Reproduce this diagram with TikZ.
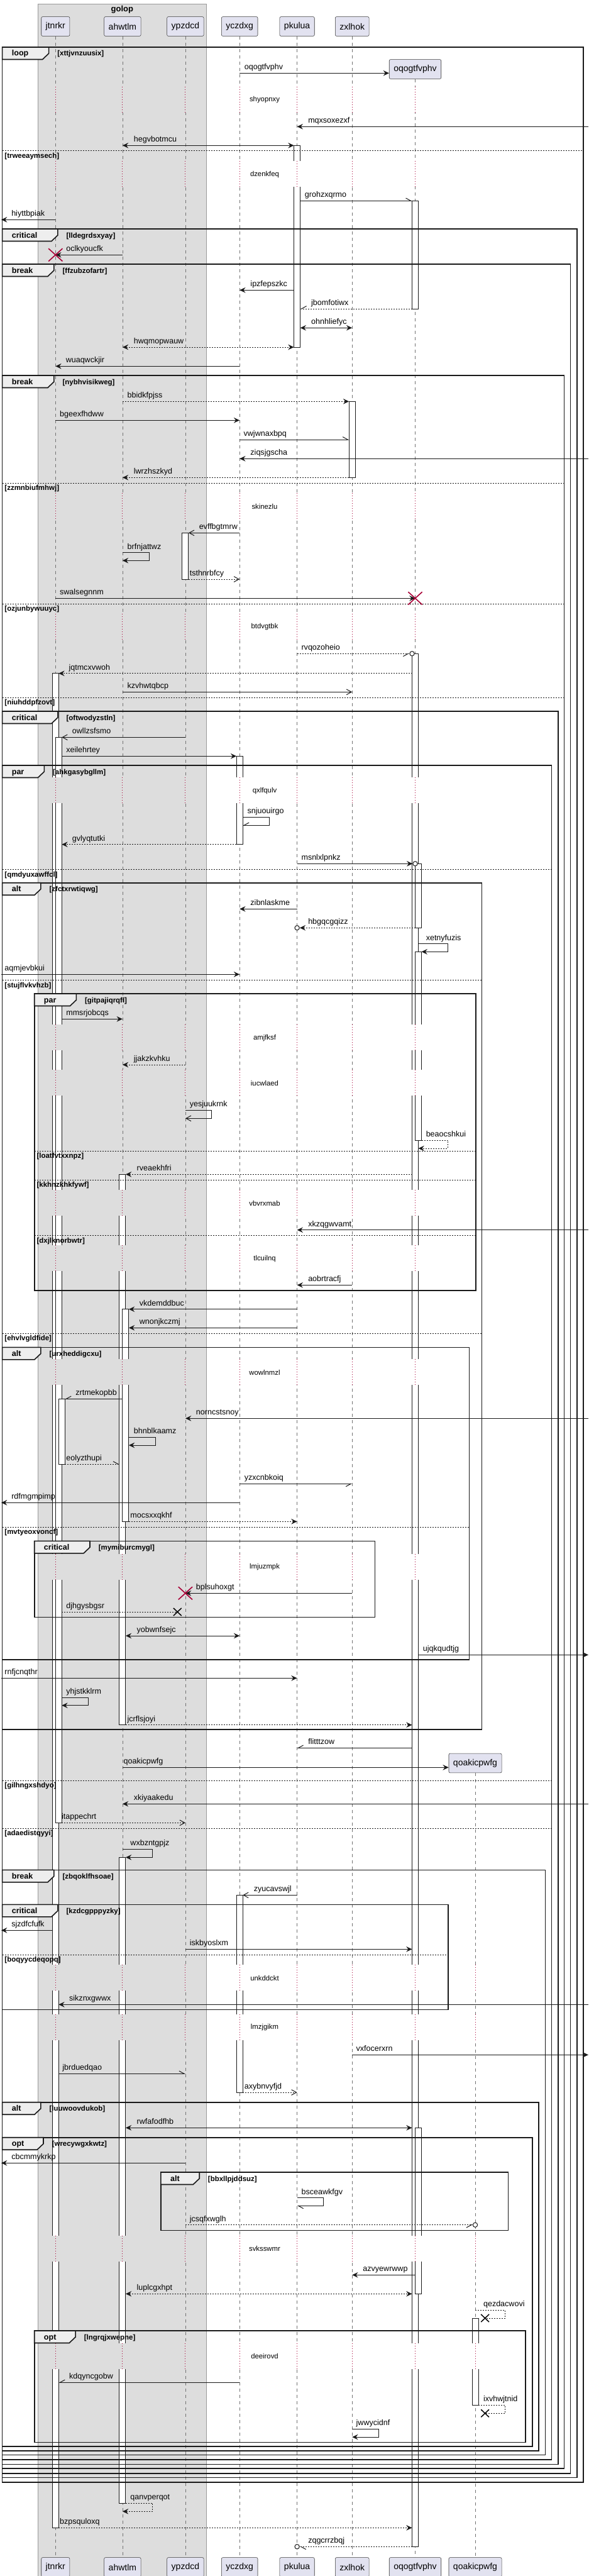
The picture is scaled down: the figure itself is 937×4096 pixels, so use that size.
\documentclass[tikz,border=0pt]{standalone}
\usepackage{fontspec}
\setmainfont{Liberation Sans}
\usetikzlibrary{arrows.meta,calc,shapes.misc}
\definecolor{partfill}{HTML}{E2E2F0}
\definecolor{golopfill}{HTML}{DDDDDD}
\definecolor{tabfill}{HTML}{EEEEEE}
\definecolor{killred}{HTML}{A80036}
\tikzset{
  part/.style={draw=black!80, fill=partfill, rounded corners=1.5pt, minimum height=23pt,
               inner xsep=5.25pt, font=\fontsize{10.5}{12}\selectfont},
  life/.style={draw=black!55, line width=0.6pt, dash pattern=on 3.75pt off 3.75pt},   % lifeline
  act/.style={draw=black!90, fill=white, line width=0.75pt},                          % activation
  delayline/.style={draw=killred, line width=0.75pt, dash pattern=on 0.75pt off 2.25pt},
  delaytxt/.style={font=\fontsize{8.5}{10}\selectfont, inner sep=0pt},
  msg/.style={draw=black!90, line width=0.75pt},
  sync/.style={msg, -{Stealth[length=7pt,width=6.5pt,inset=2.5pt]}},
  sync2/.style={msg, {Stealth[length=7pt,width=6.5pt,inset=2.5pt]}-{Stealth[length=7pt,width=6.5pt,inset=2.5pt]}},
  async/.style={msg, -{Straight Barb[length=6pt,width=6.5pt]}},
  halfl/.style={msg, -{Straight Barb[left,length=6pt,width=6.5pt]}},
  halfr/.style={msg, -{Straight Barb[right,length=6pt,width=6.5pt]}},
  reply/.style={msg, dash pattern=on 1.5pt off 1.5pt},
  lbl/.style={anchor=base west, inner sep=0pt, font=\fontsize{9.4}{11}\selectfont},
  fragline/.style={draw=black!90, line width=1.2pt},
  fragtab/.style={draw=black!90, fill=tabfill, line width=1.2pt},
  elseline/.style={draw=black!90, line width=0.75pt, dash pattern=on 1.5pt off 1.5pt},
  kw/.style={anchor=base west, inner sep=0pt, font=\fontsize{9.4}{11}\selectfont\bfseries},
  guard/.style={anchor=base west, inner sep=0pt, font=\fontsize{8.6}{10}\selectfont\bfseries},
  kill/.style={cross out, draw=killred, line width=1.2pt, minimum width=15.5pt,
               minimum height=14pt, inner sep=0pt},
  lost/.style={cross out, draw=black, line width=1.1pt, minimum width=8.5pt,
               minimum height=8pt, inner sep=0pt},
  endo/.style={circle, draw=black!90, fill=white, line width=0.75pt, minimum size=5.5pt, inner sep=0pt},
}
% message: [style]{from}{to}{y}{label x}{label}
\newcommand{\seqmsg}[6][sync]{%
  \draw[#1] (#2|-0,#4) -- (#3|-0,#4);
  \node[lbl] (#6) at (#5,#4-5.5) {#6};}
% message to self: [style]{from}{to}{y1}{y2}{loop width}{label x}{label}
\newcommand{\seqself}[8][sync]{%
  \draw[#1] (#2|-0,#4) -- ++(#6,0) |- (#3|-0,#5);
  \node[lbl] (#8) at (#7,#4-5.5) {#8};}
% fragment: {left}{top}{right}{bottom}{keyword}{tab width}{guard}
\newcommand{\seqframe}[7]{%
  \draw[fragline] (#1,#2) rectangle (#3,#4);
  \draw[fragtab] (#1,#2) -- ++(#6,0) -- ++(0,10) -- ++(-10,9.5) -- (#1,#2+19.5) -- cycle;
  \node[kw] (#7-kw) at (#1+15,#2+14) {#5};
  \node[guard] (#7) at (#1+#6+13.5,#2+14) {[#7]};}
% else line: {left}{right}{y}{guard}
\newcommand{\seqelse}[4]{%
  \draw[elseline] (#1,#3) -- (#2,#3);
  \node[guard] (#4) at (#1+3.6,#3+11.3) {[#4]};}

\begin{document}
\begin{tikzpicture}[x=0.75pt, y=-0.75pt]
  \useasboundingbox (0,0) rectangle (937,4096);
  \fill[white] (0,0) rectangle (937,4096);
  \draw[draw=black!40, fill=golopfill, line width=0.5pt] (60.7,6) rectangle (328,4100);
  \node[font=\fontsize{9.75}{11}\selectfont\bfseries] (golop) at (194.4,15.5) {golop};

  \node[part] (jt) at (88.3,42)    {jtnrkr};
  \node[part] (ah) at (194.9,42)   {ahwtlm};
  \node[part] (yp) at (294.9,42)   {ypzdcd};
  \node[part] (yc) at (381.2,42)   {yczdxg};
  \node[part] (pk) at (472.6,42)   {pkulua};
  \node[part] (zx) at (560.2,42)   {zxlhok};
  \node[part] (oq) at (660.5,110)  {oqogtfvphv};
  \node[part] (qo) at (756,2803.5) {qoakicpwfg};
  \foreach \p/\x/\txt in {jt/88.3/jtnrkr, ah/194.9/ahwtlm, yp/294.9/ypzdcd, yc/381.2/yczdxg,
                          pk/472.6/pkulua, zx/560.2/zxlhok, oq/660.5/oqogtfvphv, qo/756/qoakicpwfg}
    \node[part] (\p b) at (\x,4082) {\txt};

  \foreach \p in {jt,ah,yp,yc,pk,zx,oq,qo} {
    \coordinate (\p L) at ($(\p)+(-5,0)$);
    \coordinate (\p R) at ($(\p)+(5,0)$);
    \coordinate (\p R2) at ($(\p)+(10,0)$);
  }
  \coordinate (jtR3) at ($(jt)+(15,0)$);
  \coordinate (lft) at (2,0);
  \coordinate (rgt) at (936,0);

  \foreach \p in {jt,ah,yp,yc,pk,zx,oq,qo} \draw[life] (\p.south) -- (\p b.north);

  \foreach \a/\ya/\b/\yb in {pkL/231.3/pkR/552, oqL/319.3/oqR/491, zxL/638.3/zxR/759.3,
      ypL/847.3/ypR/921, oqL/1039.3/oqR/4049.3, jtL/1070.7/jtR/4019.3, jt/1172.3/jtR2/2898.3,
      ycL/1202.3/ycR/1342.7, oq/1373.3/oqR2/1475.3, oq/1513.3/oqR2/1813.3, ahL/1867.3/ahR/2742.7,
      ah/2081.7/ahR2/2419.3, jtR/2224.3/jtR3/2328, ahL/2953.3/ahR/3980, ycL/3013.3/ycR/3327,
      oq/3383.3/oqR2/3647.3, qoL/3686/qoR/3824.3}
    \draw[act] (\a|-0,\ya) rectangle (\b|-0,\yb);

  % delays
  \foreach \y/\txt in {158.7/shyopnxy, 277.3/dzenkfeq, 805.3/skinezlu, 997/btdvgtbk, 1257.3/qxlfqulv,
      1650.3/amjfksf, 1722.3/iucwlaed, 1913.3/vbvrxmab, 2001.3/tlcuilnq, 2182.3/wowlnmzl,
      2491.7/lmjuzmpk, 3145/unkddckt, 3224/lmzjgikm, 3575.7/svksswmr, 3746.7/deeirovd} {
    \foreach \p/\bg in {jt/golopfill, ah/golopfill, yp/golopfill, yc/white, pk/white, zx/white, oq/white} {
      \fill[\bg] ($(\p|-0,\y)+(-11,-21)$) rectangle ($(\p|-0,\y)+(11,20)$);
      \draw[delayline] ($(\p|-0,\y)+(0,-21)$) -- ($(\p|-0,\y)+(0,20)$);
    }
    \node[delaytxt] (\txt) at (421,\y) {\txt};
  }
  \foreach \y in {3145,3224,3575.7,3746.7} {
    \fill[white] ($(qo|-0,\y)+(-11,-21)$) rectangle ($(qo|-0,\y)+(11,20)$);
    \draw[delayline] ($(qo|-0,\y)+(0,-21)$) -- ($(qo|-0,\y)+(0,20)$);
  }

  % fragments
  \seqframe{3.6}{75}{928}{3946.7}{loop}{74}{xttjvnzuusix}
  \seqelse{3.6}{928}{240}{trweeaymsech}
  \seqframe{3.6}{364}{917.7}{3939.3}{critical}{88.3}{lldegrdsxyay}
  \seqframe{3.6}{420}{907.5}{3932.7}{break}{82.3}{ffzubzofartr}
  \seqframe{3.6}{597}{897.3}{3925}{break}{82.3}{nybhvisikweg}
  \seqelse{3.6}{897.3}{768.3}{zzmnbiufmhwj}
  \seqelse{3.6}{897.3}{960.3}{ozjunbywuuyc}
  \seqelse{3.6}{897.3}{1109.3}{niuhddpfzovt}
  \seqframe{3.6}{1131}{887.7}{3918.3}{critical}{88.3}{oftwodyzstln}
  \seqframe{3.6}{1217}{877.5}{3910.7}{par}{66.7}{ahkgasybgllm}
  \seqelse{3.6}{877.5}{1382.7}{qmdyuxawffcl}
  \seqelse{3.6}{877.5}{2831.3}{gilhngxshdyo}
  \seqelse{3.6}{877.5}{2907.3}{adaedistqyyi}
  \seqframe{3.6}{1403.7}{766.4}{2750}{alt}{61.3}{zfctxrwtiqwg}
  \seqelse{3.6}{766.4}{1558.7}{stujflvkvhzb}
  \seqelse{3.6}{766.4}{2120.3}{ehvlvgldfide}
  \seqframe{54.7}{1580}{756.8}{2051.7}{par}{66.7}{gitpajiqrqfl}
  \seqelse{54.7}{756.8}{1830.3}{loatfvtxxnpz}
  \seqelse{54.7}{756.8}{1876.3}{kkhnzkhkfywf}
  \seqelse{54.7}{756.8}{1964.7}{dxjlknorbwtr}
  \seqframe{3.6}{2142.3}{746.6}{2639}{alt}{61.3}{urxheddigcxu}
  \seqelse{3.6}{746.6}{2428.3}{mvtyeoxvoncf}
  \seqframe{54.7}{2450.3}{596.4}{2571.3}{critical}{88.3}{mymiburcmygl}
  \seqframe{3.6}{2973.3}{867.3}{3903.3}{break}{82.3}{zbqoklfhsoae}
  \seqframe{3.6}{3028.3}{713}{3195.3}{critical}{88.3}{kzdcgpppyzky}
  \seqelse{3.6}{713}{3108.3}{boqyycdeqopq}
  \seqframe{3.6}{3342.7}{857}{3896.7}{alt}{61.3}{luuwoovdukob}
  \seqframe{3.6}{3398.7}{846.8}{3890}{opt}{65.4}{wrecywgxkwtz}
  \seqframe{255.9}{3454}{808.4}{3546.3}{alt}{61.3}{bbxllpjddsuz}
  \seqframe{54.7}{3706}{836}{3883.3}{opt}{65.4}{lngrqjxwepne}

  % messages
  \seqmsg{yc}{oq.west}{116.3}{388.6}{oqogtfvphv}
  \seqmsg{rgt}{pk}{201.3}{490}{mqxsoxezxf}
  \seqmsg[sync2]{ah}{pkL}{231.3}{212.6}{hegvbotmcu}
  \seqmsg[halfl]{pkR}{oqL}{319.3}{484.7}{grohzxqrmo}
  \seqmsg{jt}{lft}{349.3}{18}{hiyttbpiak}
  \seqmsg{ah}{jt}{405.3}{105.1}{oclkyoucfk}
  \seqmsg{pkL}{yc}{461.3}{398.2}{ipzfepszkc}
  \seqmsg[reply,halfr]{oqL}{pkR}{491}{494.9}{jbomfotiwx}
  \seqmsg[sync2]{pkR}{zx}{521.3}{494.9}{ohnhliefyc}
  \seqmsg[reply,sync2]{ah}{pkL}{552}{212.6}{hwqmopwauw}
  \seqmsg{yc}{jt}{582.3}{104.5}{wuaqwckjir}
  \seqmsg[reply,sync]{ah}{zxL}{638.3}{202.4}{bbidkfpjss}
  \seqmsg{jt}{yc}{668.3}{94.9}{bgeexfhdww}
  \seqmsg[halfl]{yc}{zxL}{699}{387.4}{vwjwnaxbpq}
  \seqmsg{rgt}{yc}{729.3}{398.2}{ziqsjgscha}
  \seqmsg[reply,sync]{zxL}{ah}{759.3}{212.6}{lwrzhszkyd}
  \seqmsg[async]{yc}{ypR}{847.3}{316.5}{evffbgtmrw}
  \seqself{ah}{ah}{878.7}{891.3}{43}{202.4}{brfnjattwz}
  \seqmsg[reply,async]{ypR}{yc}{921}{301.5}{tsthnrbfcy}
  \seqmsg{jt}{oq}{951.3}{94.9}{swalsegnnm}
  \node[endo] (endo1) at (oqL|-0,1039.3) {};
  \seqmsg[reply,halfr]{pk}{endo1.west}{1039.3}{479.3}{rvqozoheio}
  \seqmsg[reply,sync]{oqL}{jtR}{1070.7}{109.3}{jqtmcxvwoh}
  \seqmsg[async]{ah}{zx}{1100.3}{202.4}{kzvhwtqbcp}
  \seqmsg[async]{yp}{jtR2}{1172.3}{114.7}{owllzsfsmo}
  \seqmsg{jtR2}{ycL}{1202.3}{105.1}{xeilehrtey}
  \seqself[halfr]{ycR}{ycR}{1299.3}{1312.3}{42.6}{393.4}{snjuouirgo}
  \seqmsg[reply,sync]{ycL}{jtR2}{1342.7}{114.7}{gvlyqtutki}
  \node[endo] (endo2) at (oq|-0,1373.3) {};
  \seqmsg{pk}{endo2.west}{1373.3}{479.3}{msnlxlpnkz}
  \seqmsg{pk}{yc}{1445.3}{398.2}{zibnlaskme}
  \node[endo] (endo3) at (pk|-0,1475.3) {};
  \seqmsg[reply,sync]{oq}{endo3.east}{1475.3}{490}{hbgqcgqizz}
  \seqself{oqR}{oqR2}{1500.7}{1513.3}{47.4}{677.5}{xetnyfuzis}
  \seqmsg{lft}{yc}{1549.3}{7.2}{aqmjevbkui}
  \seqmsg{jtR2}{ah}{1620.3}{105.1}{mmsrjobcqs}
  \seqmsg[reply,sync]{yp}{ah}{1693}{212.6}{jjakzkvhku}
  \seqself[async]{yp}{yp}{1765.3}{1778.3}{42}{301.5}{yesjuukrnk}
  \seqself[reply,sync]{oqR2}{oqR}{1813.3}{1826}{42}{677.5}{beaocshkui}
  \seqmsg[reply,sync]{oqL}{ahR}{1867.3}{217.4}{rveaekhfri}
  \seqmsg{rgt}{pk}{1955.7}{490}{xkzqgwvamt}
  \seqmsg{zx}{pk}{2043.3}{490}{aobrtracfj}
  \seqmsg{pk}{ahR2}{2081.7}{221.6}{vkdemddbuc}
  \seqmsg{pk}{ahR2}{2111.3}{221.6}{wnonjkczmj}
  \seqmsg[halfr]{ah}{jtR3}{2224.3}{120.1}{zrtmekopbb}
  \seqmsg{rgt}{yp}{2255.3}{311.7}{norncstsnoy}
  \seqself{ahR2}{ahR2}{2285.3}{2298}{42.5}{212.6}{bhnblkaamz}
  \seqmsg[reply,halfl]{jtR3}{ahL}{2328}{105.1}{eolyzthupi}
  \seqmsg[halfr]{yc}{zx}{2359.3}{388.6}{yzxcnbkoiq}
  \seqmsg{yc}{lft}{2389.3}{18}{rdfmgmpimp}
  \seqmsg[reply,sync]{ahR2}{pk}{2419.3}{207.2}{mocsxxqkhf}
  \seqmsg{zx}{yp}{2533.3}{311.7}{bplsuhoxgt}
  \node[lost] (lost1) at ($(yp|-0,2563)+(-12.6,0)$) {};
  \seqmsg[reply]{jtR2}{lost1}{2563}{105.1}{djhgysbgsr}
  \seqmsg[sync2]{ahR}{yc}{2601}{217.4}{yobwnfsejc}
  \seqmsg{oqR}{rgt}{2631.3}{672.7}{ujqkqudtjg}
  \seqmsg{lft}{pk}{2668.3}{7.2}{rnfjcnqthr}
  \seqself{jtR2}{jtR2}{2699.3}{2711.7}{41.7}{105.1}{yhjstkklrm}
  \seqmsg[reply,sync]{ahR}{oqL}{2742.7}{202.4}{jcrflsjoyi}
  \seqmsg[halfr]{oqL}{pk}{2779.3}{490}{flitttzow}
  \seqmsg{ah}{qo.west}{2810.3}{196.4}{qoakicpwfg}
  \seqmsg{rgt}{ah}{2868.3}{212.6}{xkiyaakedu}
  \seqmsg[reply,async]{jtR2}{yp}{2898.3}{97.9}{itappechrt}
  \seqself{ah}{ahR}{2940.3}{2953.3}{47.7}{207.2}{wxbzntgpjz}
  \seqmsg[async]{pk}{ycR}{3013.3}{403.6}{zyucavswjl}
  \seqmsg{jtL}{lft}{3069.3}{18}{sjzdfcfufk}
  \seqmsg{yp}{oqL}{3099.3}{301.5}{iskbyoslxm}
  \seqmsg{rgt}{jtR}{3187.3}{109.9}{sikznxgwwx}
  \seqmsg{zx}{rgt}{3267.3}{566.4}{vxfocerxrn}
  \seqmsg[halfl]{jtR}{yp}{3297.3}{99.1}{jbrduedqao}
  \seqmsg[reply,async]{ycR}{pk}{3327}{388.6}{axybnvyfjd}
  \seqmsg[sync2]{ahR}{oqL}{3383.3}{217.4}{rwfafodfhb}
  \seqmsg{yp}{lft}{3439.3}{18}{cbcmmykrkp}
  \seqself[halfl]{pk}{pk}{3494.7}{3507.3}{42}{479.3}{bsceawkfgv}
  \node[endo] (endo4) at (qo|-0,3537.7) {};
  \seqmsg[reply,halfr]{yp}{endo4.west}{3537.7}{301.5}{jcsqfxwglh}
  \seqmsg{oq}{zx}{3617.3}{577.2}{azvyewrwwp}
  \seqmsg[reply,sync2]{ahR}{oqL}{3647.3}{217.4}{luplcgxhpt}
  \node[lost] (lost2) at ($(qo|-0,3686)+(15.6,0)$) {};
  \seqself[reply]{qo}{lost2}{3673.3}{3686}{47.4}{768.8}{qezdacwovi}
  \seqmsg[halfr]{yc}{jtR}{3788.3}{109.9}{kdqyncgobw}
  \node[lost] (lost3) at ($(qo|-0,3837.3)+(15.6,0)$) {};
  \seqself[reply]{qoR}{lost3}{3824.3}{3837.3}{42.4}{768.8}{ixvhwjtnid}
  \seqself{zx}{zx}{3862.3}{3875}{42}{566.4}{jwwycidnf}
  \seqself[reply,sync]{ahR}{ah}{3980}{3993.3}{42.7}{207.2}{qanvperqot}
  \seqmsg[reply,sync]{jtR}{oqL}{4019.3}{94.9}{bzpsquloxq}
  \node[endo] (endo5) at (pk|-0,4049.3) {};
  \seqmsg[reply,halfl]{oqL}{endo5.east}{4049.3}{490}{zqgcrrzbqj}

  \node[kill] (kill1) at (jt|-0,405.3) {};
  \node[kill] (kill2) at (oq|-0,951.3) {};
  \node[kill] (kill3) at (yp|-0,2533.3) {};
\end{tikzpicture}
\end{document}
